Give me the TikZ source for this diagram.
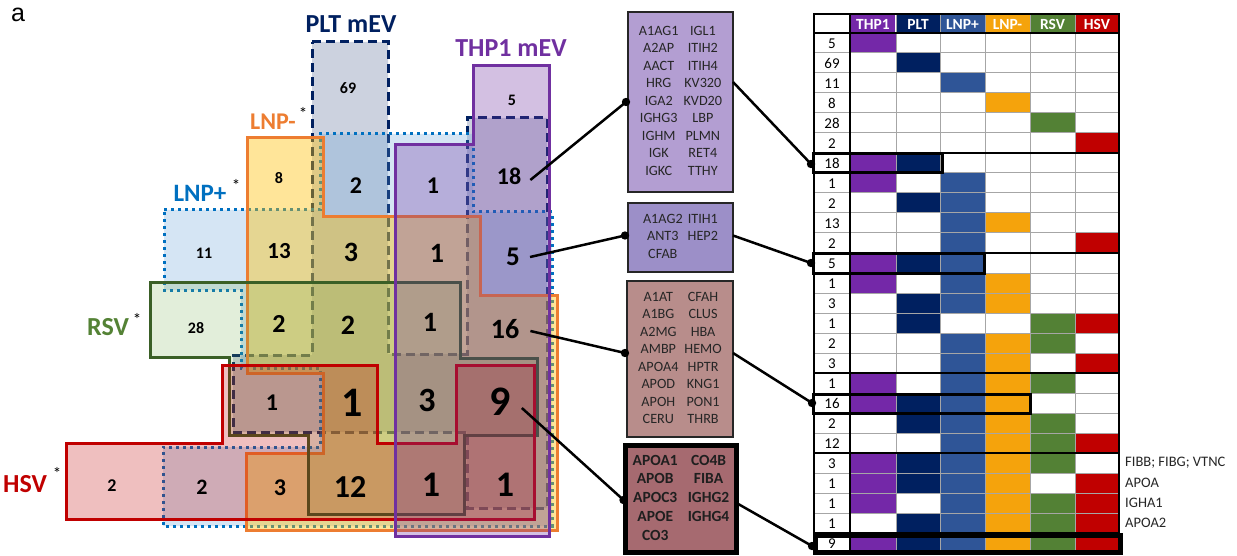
\documentclass[tikz,border=0pt]{standalone}
\usepackage{fontspec}
\setmainfont{Carlito}
\newfontfamily\arialfont{Liberation Sans}
\definecolor{cTHP}{HTML}{7030A0}
\definecolor{cPLT}{HTML}{002060}
\definecolor{cLNPp}{HTML}{0070C0}
\definecolor{cLNPpf}{HTML}{5B9BD5}
\definecolor{cLNPm}{HTML}{ED7D31}
\definecolor{cLNPmf}{HTML}{FFC000}
\definecolor{cRSV}{HTML}{3A5F26}
\definecolor{cRSVf}{HTML}{70AD47}
\definecolor{cRSVt}{HTML}{548235}
\definecolor{cHSV}{HTML}{C00000}
\definecolor{tTHP}{HTML}{7428A8}
\definecolor{tPLT}{HTML}{002060}
\definecolor{tLNPp}{HTML}{2F5597}
\definecolor{tLNPm}{HTML}{F5A30C}
\definecolor{tRSV}{HTML}{538135}
\definecolor{tHSV}{HTML}{C00000}
\definecolor{boxA}{HTML}{B39ED2}
\definecolor{boxB}{HTML}{9C8FC8}
\definecolor{boxC}{HTML}{B88D8B}
\definecolor{boxD}{HTML}{A66A70}
\definecolor{txtdark}{HTML}{262626}
\definecolor{gridgray}{HTML}{A6A6A6}
\usetikzlibrary{calc}
\tikzset{
  vline/.style={line width=3pt, line join=miter},
  pltS/.style={vline, draw=cPLT, dash pattern=on 9pt off 5pt, fill=cPLT, fill opacity=0.2},
  lnppS/.style={vline, draw=cLNPp, dash pattern=on 3pt off 4pt, fill=cLNPpf, fill opacity=0.25},
  lnpmS/.style={vline, draw=cLNPm, fill=cLNPmf, fill opacity=0.4},
  rsvS/.style={vline, draw=cRSV, fill=cRSVf, fill opacity=0.2},
  hsvS/.style={vline, draw=cHSV, fill=cHSV, fill opacity=0.25},
  thpS/.style={vline, draw=cTHP, fill=cTHP, fill opacity=0.3},
  num/.style={font=\bfseries\fontsize{#1}{#1}\selectfont, inner sep=0pt, text=black},
  lab/.style={font=\bfseries\fontsize{26}{26}\selectfont, anchor=base, inner sep=0pt},
  starmark/.style={font=\fontsize{17}{17}\selectfont, inner sep=0pt},
  pbox/.style={draw=txtdark, line width=1.8pt, inner sep=0pt, outer sep=0pt,
    font=\fontsize{14.2}{17.5}\selectfont, text=txtdark},
  conn/.style={line width=2.5pt, black},
  cnt/.style={font=\fontsize{15}{15}\selectfont, inner sep=0pt, text=black},
  hdr/.style={font=\bfseries\fontsize{15.5}{15.5}\selectfont, inner sep=0pt, text=white},
  side/.style={font=\fontsize{14.5}{14.5}\selectfont, inner sep=0pt, anchor=west, text=txtdark},
  grid/.style={draw=gridgray, line width=1pt},
  hl/.style={draw=black, line width=3pt}
}
\begin{document}
\begin{tikzpicture}[x=1pt,y=-1pt]
\useasboundingbox (0,0) rectangle (1237,556);
\fill[white] (0,0) rectangle (1237,556);

\node[font=\arialfont\fontsize{25}{25}\selectfont, anchor=base, inner sep=0pt] (panel) at (18,22) {a};

% ---------- Venn-like sets ----------
\draw[pltS] (312,42) -- (388,42) -- (388,354) -- (467,354) -- (467,118) -- (547,118) -- (547,508) -- (467,508) -- (467,432) -- (233,432) -- (233,355) -- (312,355) -- cycle;
\draw[lnppS] (164,210) -- (320,210) -- (320,134) -- (473,134) -- (473,212) -- (552,212) -- (552,526) -- (163,526) -- (163,447) -- (320,447) -- (320,368) -- (241,368) -- (241,290) -- (164,290) -- cycle;
\draw[lnpmS] (247,138) -- (323,138) -- (323,217) -- (480,217) -- (480,295) -- (557,295) -- (557,530) -- (246,530) -- (246,453) -- (323,453) -- (323,373) -- (247,373) -- cycle;
\draw[rsvS] (150,282) -- (460,282) -- (460,358) -- (537,358) -- (537,435) -- (464,435) -- (464,514) -- (308,514) -- (308,435) -- (229,435) -- (229,357) -- (150,357) -- cycle;
\draw[hsvS] (66,443) -- (222,443) -- (222,365) -- (377,365) -- (377,443) -- (456,443) -- (456,365) -- (534,365) -- (534,519) -- (66,519) -- cycle;
\draw[thpS] (473,66) -- (549,66) -- (549,536) -- (395,536) -- (395,145) -- (473,145) -- cycle;

% ---------- set labels ----------
\node[lab, text=cPLT] (lPLT) at (351,33) {PLT mEV};
\node[lab, text=cTHP] (lTHP) at (511,57) {THP1 mEV};
\node[lab, text=cLNPm, font=\bfseries\fontsize{24}{24}\selectfont] (lLNPm) at (273,130) {LNP-};
\node[starmark] (sLNPm) at (303,113) {*};
\node[lab, text=cLNPp, font=\bfseries\fontsize{25}{25}\selectfont] (lLNPp) at (200,202) {LNP+};
\node[starmark] (sLNPp) at (236,185) {*};
\node[lab, text=cRSVt] (lRSV) at (108,335) {RSV};
\node[starmark] (sRSV) at (137,319) {*};
\node[lab, text=cHSV] (lHSV) at (25,492) {HSV};
\node[starmark] (sHSV) at (57,473) {*};

% ---------- region counts ----------
\node[num=16] (n69) at (348,88) {69};
\node[num=16] (n5a) at (512,100) {5};
\node[num=16] (n8) at (279,178) {8};
\node[num=16] (n11) at (204,253) {11};
\node[num=16] (n28) at (196,328) {28};
\node[num=18] (n2a) at (112,486) {2};
\node[num=22] (n2b) at (202,487) {2};
\node[num=24] (n3a) at (280,488) {3};
\node[num=32] (n12) at (350,487) {12};
\node[num=36] (n1a) at (431,485) {1};
\node[num=36] (n1b) at (505,485) {1};
\node[num=42] (n9) at (500,402) {9};
\node[num=34] (n3b) at (427,400) {3};
\node[num=42] (n1c) at (352,403) {1};
\node[num=24] (n1d) at (272,403) {1};
\node[num=26] (n2c) at (279,324) {2};
\node[num=28] (n2d) at (348,325) {2};
\node[num=28] (n1e) at (430,322) {1};
\node[num=28] (n16) at (505,329) {16};
\node[num=28] (n3c) at (351,252) {3};
\node[num=28] (n1f) at (437,253) {1};
\node[num=27] (n5b) at (513,257) {5};
\node[num=24] (n2e) at (356,186) {2};
\node[num=24] (n1g) at (433,186) {1};
\node[num=24] (n18) at (509,176) {18};
\node[num=23] (n13) at (279,251) {13};

% ---------- protein boxes ----------
\node[pbox, fill=boxA, minimum width=105pt, minimum height=180pt] (box1) at (680.5,102) {\begin{tabular}{@{}c@{\hspace{5pt}}c@{}}
A1AG1 & IGL1\\ A2AP & ITIH2\\ AACT & ITIH4\\ HRG & KV320\\ IGA2 & KVD20\\ IGHG3 & LBP\\ IGHM & PLMN\\ IGK & RET4\\ IGKC & TTHY\end{tabular}};
\node[pbox, fill=boxB, minimum width=105pt, minimum height=69pt] (box2) at (680.5,237.5) {\begin{tabular}{@{}c@{\hspace{5pt}}c@{}}
A1AG2 & ITIH1\\ ANT3 & HEP2\\ CFAB & \end{tabular}};
\node[pbox, fill=boxC, minimum width=106pt, minimum height=156pt] (box3) at (680,359) {\begin{tabular}{@{}c@{\hspace{6pt}}c@{}}
A1AT & CFAH\\ A1BG & CLUS\\ A2MG & HBA\\ AMBP & HEMO\\ APOA4 & HPTR\\ APOD & KNG1\\ APOH & PON1\\ CERU & THRB\end{tabular}};
\node[pbox, draw=black, line width=5pt, fill=boxD, minimum width=111pt, minimum height=107pt, font=\bfseries\fontsize{15.5}{18.8}\selectfont, text=black!88] (box4) at (681,499) {\begin{tabular}{@{}c@{\hspace{10pt}}c@{}}
APOA1 & CO4B\\ APOB & FIBA\\ APOC3 & IGHG2\\ APOE & IGHG4\\ CO3 & \end{tabular}};

% ---------- table ----------
\foreach \cx/\cc in {850/tTHP,896/tPLT,940/tLNPp,985/tLNPm,1030/tRSV,1075/tHSV}
  \fill[\cc] (\cx,14) rectangle ++(45,19);
\node[hdr] (hTHP) at (873,24) {THP1};
\node[hdr] (hPLT) at (918,24) {PLT};
\node[hdr] (hLNPp) at (962.5,24) {LNP+};
\node[hdr] (hLNPm) at (1007.5,24) {LNP-};
\node[hdr] (hRSV) at (1052.5,24) {RSV};
\node[hdr] (hHSV) at (1097,24) {HSV};

\foreach \n/\a/\b/\c/\d/\e/\f [count=\i from 0] in {
5/1/0/0/0/0/0, 69/0/1/0/0/0/0, 11/0/0/1/0/0/0, 8/0/0/0/1/0/0, 28/0/0/0/0/1/0, 2/0/0/0/0/0/1,
18/1/1/0/0/0/0, 1/1/0/1/0/0/0, 2/0/1/1/0/0/0, 13/0/0/1/1/0/0, 2/0/0/1/0/0/1,
5/1/1/1/0/0/0, 1/1/0/1/1/0/0, 3/0/1/1/1/0/0, 1/0/1/0/0/1/1, 2/0/0/1/1/1/0, 3/0/0/1/1/0/1,
1/1/0/1/1/1/0, 16/1/1/1/1/0/0, 2/0/1/1/1/1/0, 12/0/0/1/1/1/1,
3/1/1/1/1/1/0, 1/1/1/1/1/0/1, 1/1/0/1/1/1/1, 1/0/1/1/1/1/1,
9/1/1/1/1/1/1}{
  \pgfmathsetmacro\yt{33+20*\i}
  \ifnum\a=1 \fill[tTHP] (850,\yt) rectangle ++(46,20);\fi
  \ifnum\b=1 \fill[tPLT] (896,\yt) rectangle ++(44,20);\fi
  \ifnum\c=1 \fill[tLNPp] (940,\yt) rectangle ++(45,20);\fi
  \ifnum\d=1 \fill[tLNPm] (985,\yt) rectangle ++(45,20);\fi
  \ifnum\e=1 \fill[tRSV] (1030,\yt) rectangle ++(45,20);\fi
  \ifnum\f=1 \fill[tHSV] (1075,\yt) rectangle ++(44,20);\fi
  \node[cnt] (cnt\i) at (832,\yt+10.5) {\n};
}
\foreach \x in {896,940,985,1030,1075} \draw[grid] (\x,14) -- (\x,553);
\foreach \k in {1,...,25} \draw[grid] (814,{33+20*\k}) -- (1119,{33+20*\k});
\draw[grid] (814,14) -- (850,14);
\foreach \y in {153,253,373,453,533} \draw[black, line width=1.2pt] (814,\y) -- (1119,\y);
\draw[black, line width=1.5pt] (814,14) rectangle (1119,553);
\draw[black, line width=2pt] (850,14) -- (850,553);
\draw[black, line width=2pt] (814,33) -- (1119,33);

\draw[hl] (813,154) rectangle (942,173);
\draw[hl] (813,254) rectangle (984,273);
\draw[hl] (813,394) rectangle (1030,413);
\draw[hl, line width=5pt] (815,535) rectangle (1120,552);

\node[side] (s1) at (1125,463) {FIBB; FIBG; VTNC};
\node[side] (s2) at (1125,483) {APOA};
\node[side] (s3) at (1125,503) {IGHA1};
\node[side] (s4) at (1125,523) {APOA2};

% ---------- connectors ----------
\coordinate (t18) at (811,164);
\coordinate (t5) at (811,263);
\coordinate (t16) at (812,403);
\coordinate (t9) at (812,546);
\coordinate (d1) at ([xshift=-2pt]box1.west);
\coordinate (d2) at ([xshift=-3pt,yshift=2pt]box2.west);
\coordinate (d3) at ([xshift=-2pt,yshift=6pt]box3.west);
\coordinate (d4) at ([xshift=-2pt,yshift=-1pt]box4.west);

\draw[conn] ([xshift=9pt,yshift=-4pt]n18.east) -- (d1);
\draw[conn] ([xshift=10pt]n5b.east) -- (d2);
\draw[conn] ([xshift=11pt,yshift=-2pt]n16.east) -- (d3);
\draw[conn] ([xshift=11pt,yshift=-6pt]n9.east) -- (d4);
\foreach \d in {d1,d2,d3,d4} \fill[black] (\d) circle (4.2pt);

\draw[conn] ([yshift=20pt]box1.east) -- (t18);
\draw[conn] ([yshift=2pt]box2.east) -- (t5);
\draw[conn] ([yshift=6pt]box3.east) -- (t16);
\draw[conn] ([yshift=-4pt]box4.east) -- (t9);
\foreach \d in {t18,t5,t16,t9} \fill[black] (\d) circle (4.2pt);
\end{tikzpicture}
\end{document}
